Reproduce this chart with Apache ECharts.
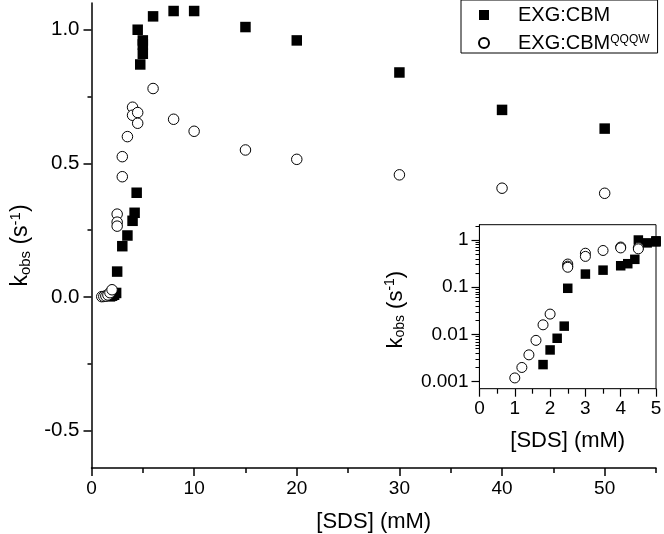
<!DOCTYPE html>
<html>
<head>
<meta charset="utf-8">
<script src="https://cdn.jsdelivr.net/npm/echarts@6/dist/echarts.min.js"></script>
<style>html,body{margin:0;padding:0;background:#fff}#c{width:664px;height:534px}</style>
</head>
<body>
<div id="c"></div>
<script>
// EXG:CBM (filled squares)
const cbmX = [1.8, 2.0, 2.2, 2.4, 2.5, 3.0, 3.5, 4.0, 4.2, 4.4, 4.5, 4.75, 5.0, 5.0, 5.0, 6, 8, 10, 15, 20, 30, 40, 50];
const cbmY = [0.0023, 0.0047, 0.0083, 0.015, 0.095, 0.19, 0.23, 0.285, 0.315, 0.39, 1.0, 0.87, 0.91, 0.945, 0.96, 1.05, 1.07, 1.07, 1.01, 0.96, 0.84, 0.70, 0.63];
// EXG:CBM^QQQW (open circles)
const qqqwX = [1.0, 1.2, 1.4, 1.6, 1.8, 2.0, 2.5, 2.5, 2.5, 3.0, 3.0, 3.5, 4.0, 4.0, 4.5, 4.5, 6, 8, 10, 15, 20, 30, 40, 50];
const qqqwY = [0.0012, 0.002, 0.0037, 0.0075, 0.016, 0.027, 0.31, 0.28, 0.265, 0.525, 0.45, 0.60, 0.71, 0.68, 0.69, 0.65, 0.78, 0.665, 0.62, 0.55, 0.515, 0.457, 0.407, 0.388];

const seriesNames = ['EXG:CBM', 'EXG:CBM QQQW'];
// tick labels
const mainXTicks = [0, 10, 20, 30, 40, 50];
const mainXMinor = [5, 15, 25, 35, 45, 55];
const mainYTicks = [-0.5, 0, 0.5, 1.0];
const mainYMinor = [-0.25, 0.25, 0.75];
const insetXTicks = [0, 1, 2, 3, 4, 5];
const insetXMinor = [0.5, 1.5, 2.5, 3.5, 4.5];
const insetYTicks = [0.001, 0.01, 0.1, 1];

const insetYMinor = [];
[0.001, 0.01, 0.1, 1].forEach(d => { for (let m = 2; m <= 9; m++) insetYMinor.push(+(d * m).toPrecision(3)); });

const zip = (xs, ys) => xs.map((x, i) => [x, ys[i]]);
const cbm = zip(cbmX, cbmY);
const qqqw = zip(qqqwX, qqqwY);

const FONT = 'Liberation Sans, Arial, sans-serif';
const black = '#000';

function nameRich(size) {
  return {
    b: { fontSize: size, fontFamily: FONT, color: black },
    sub: { fontSize: Math.round(size * 0.65), fontFamily: FONT, color: black, verticalAlign: 'bottom', padding: [10, 0, 0, 0] },
    sup: { fontSize: Math.round(size * 0.65), fontFamily: FONT, color: black, verticalAlign: 'top', padding: [0, 0, 10, 0] }
  };
}
const kobsName = '{b|k}{sub|obs}{b| (s}{sup|-1}{b|)}';

const chart = echarts.init(document.getElementById('c'), null, { renderer: 'canvas' });
chart.setOption({
  animation: false,
  backgroundColor: '#fff',
  textStyle: { fontFamily: FONT },
  legend: {
    orient: 'vertical',
    left: 461, top: 0,
    padding: [5, 8, 0, 17],
    itemWidth: 10, itemHeight: 10,
    itemGap: 8,
    borderColor: '#000', borderWidth: 1,
    backgroundColor: '#fff',
    data: [
      { name: seriesNames[0], icon: 'rect' },
      { name: seriesNames[1], icon: 'circle' }
    ],
    formatter: n => n === seriesNames[1] ? '{t|EXG:CBM}{sup|QQQW}' : '{t|EXG:CBM}',
    textStyle: {
      padding: [0, 0, 0, 24],
      rich: {
        t: { fontSize: 20, fontFamily: FONT, color: black, lineHeight: 18, verticalAlign: 'middle' },
        sup: { fontSize: 12, fontFamily: FONT, color: black, lineHeight: 6, verticalAlign: 'top' }
      }
    }
  },
  grid: [
    { left: 91.5, right: 8, top: 3, bottom: 66, outerBoundsMode: 'none', containLabel: false },
    { left: 479.5, right: 8, top: 224.7, bottom: 145.3, outerBoundsMode: 'none', containLabel: false,
      show: true, borderColor: '#000', borderWidth: 1, backgroundColor: '#fff', z: 5 }
  ],
  xAxis: [
    { gridIndex: 0, type: 'value', min: 0, max: 55, position: 'bottom',
      axisLine: { show: true, onZero: false, lineStyle: { color: black, width: 1.5 } },
      axisTick: { show: true, inside: false, length: 8, customValues: mainXTicks, lineStyle: { color: black, width: 1.5 } },
      axisLabel: { customValues: mainXTicks, color: black, fontSize: 19, fontFamily: FONT, margin: 11 },
      splitLine: { show: false },
      name: '[SDS] (mM)', nameLocation: 'middle', nameGap: 43,
      nameTextStyle: { fontSize: 22, color: black, fontFamily: FONT } },
    { gridIndex: 0, type: 'value', min: 0, max: 55, position: 'bottom',
      axisLine: { show: false, onZero: false },
      axisTick: { show: true, inside: false, length: 5, customValues: mainXMinor, lineStyle: { color: black, width: 1.5 } },
      axisLabel: { show: false }, splitLine: { show: false } },
    { gridIndex: 1, type: 'value', min: 0, max: 5, position: 'bottom',
      axisLine: { show: true, onZero: false, lineStyle: { color: black, width: 1.2 } },
      axisTick: { show: true, inside: false, length: 8, customValues: insetXTicks, lineStyle: { color: black, width: 1.2 } },
      axisLabel: { customValues: insetXTicks, color: black, fontSize: 19, fontFamily: FONT, margin: 11 },
      splitLine: { show: false },
      name: '[SDS] (mM)', nameLocation: 'middle', nameGap: 41,
      nameTextStyle: { fontSize: 22, color: black, fontFamily: FONT } },
    { gridIndex: 1, type: 'value', min: 0, max: 5, position: 'bottom',
      axisLine: { show: false, onZero: false },
      axisTick: { show: true, inside: false, length: 5, customValues: insetXMinor, lineStyle: { color: black, width: 1.2 } },
      axisLabel: { show: false }, splitLine: { show: false } }
  ],
  yAxis: [
    { gridIndex: 0, type: 'value', min: -0.64, max: 1.1, position: 'left',
      axisLine: { show: true, onZero: false, lineStyle: { color: black, width: 1.5 } },
      axisTick: { show: true, inside: false, length: 8, customValues: mainYTicks, lineStyle: { color: black, width: 1.5 } },
      axisLabel: { customValues: mainYTicks, color: black, fontSize: 20.5, fontFamily: FONT, margin: 12,
        formatter: v => v.toFixed(1) },
      splitLine: { show: false },
      name: kobsName, nameLocation: 'middle', nameGap: 44, nameRotate: 90,
      nameTextStyle: { rich: nameRich(23), padding: [0, 20, 0, 0] } },
    { gridIndex: 0, type: 'value', min: -0.64, max: 1.1, position: 'left',
      axisLine: { show: false, onZero: false },
      axisTick: { show: true, inside: false, length: 4, customValues: mainYMinor, lineStyle: { color: black, width: 1.5 } },
      axisLabel: { show: false }, splitLine: { show: false } },
    { gridIndex: 1, type: 'log', logBase: 10, min: 0.00071, max: 2.11, position: 'left',
      axisLine: { show: true, onZero: false, lineStyle: { color: black, width: 1.2 } },
      axisTick: { show: true, inside: false, length: 8, customValues: insetYTicks, lineStyle: { color: black, width: 1.2 } },
      axisLabel: { customValues: insetYTicks, color: black, fontSize: 19, fontFamily: FONT, margin: 11,
        formatter: v => String(+v.toPrecision(3)) },
      splitLine: { show: false },
      name: kobsName, nameLocation: 'middle', nameGap: 72, nameRotate: 90,
      nameTextStyle: { rich: nameRich(22), padding: [0, 6, 0, 0] } },
    { gridIndex: 1, type: 'log', logBase: 10, min: 0.00071, max: 2.11, position: 'left',
      axisLine: { show: false, onZero: false },
      axisTick: { show: true, inside: false, length: 4, customValues: insetYMinor, lineStyle: { color: black, width: 1 } },
      axisLabel: { show: false }, splitLine: { show: false } }
  ],
  series: [
    { name: seriesNames[0], type: 'scatter', xAxisIndex: 0, yAxisIndex: 0, data: cbm,
      symbol: 'rect', symbolSize: 10.5, itemStyle: { color: black, opacity: 1 }, z: 2 },
    { name: seriesNames[1], type: 'scatter', xAxisIndex: 0, yAxisIndex: 0, data: qqqw,
      symbol: 'circle', symbolSize: 10.5, itemStyle: { color: '#fff', borderColor: black, borderWidth: 1, opacity: 1 }, z: 3 },
    { name: seriesNames[0], type: 'scatter', xAxisIndex: 2, yAxisIndex: 2, data: cbm.filter(p => p[0] <= 5),
      symbol: 'rect', symbolSize: 9.5, itemStyle: { color: black, opacity: 1 }, z: 6, clip: false },
    { name: seriesNames[1], type: 'scatter', xAxisIndex: 2, yAxisIndex: 2, data: qqqw.filter(p => p[0] <= 5),
      symbol: 'circle', symbolSize: 10, itemStyle: { color: '#fff', borderColor: black, borderWidth: 1, opacity: 1 }, z: 7, clip: false }
  ]
});
</script>
</body>
</html>
